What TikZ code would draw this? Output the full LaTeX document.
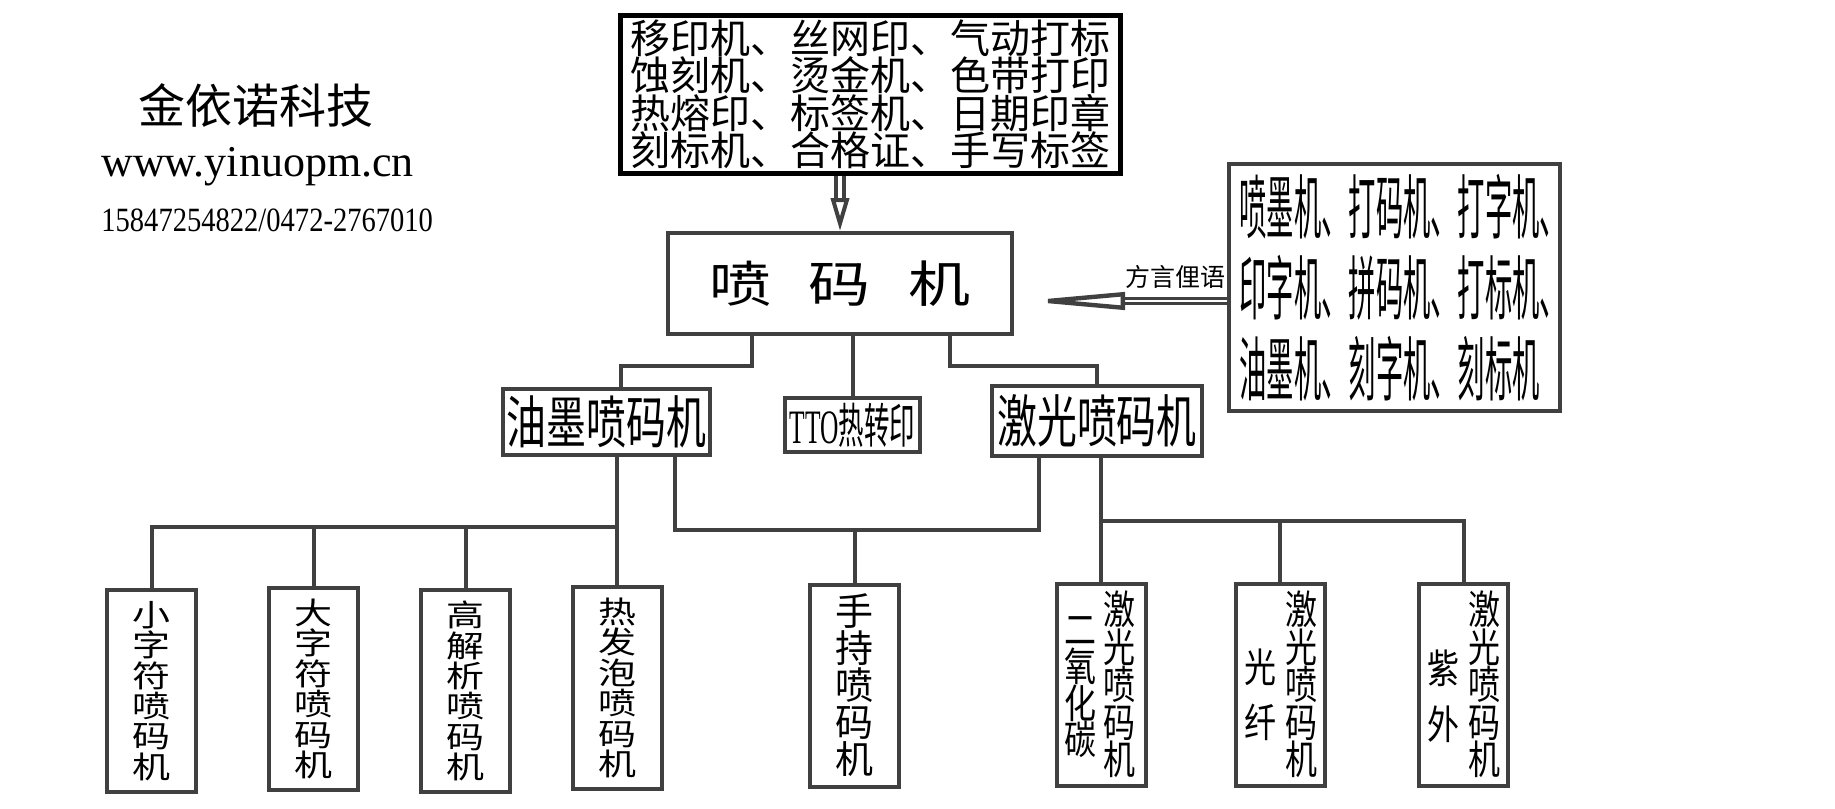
\documentclass[tikz,border=0pt]{standalone}
\usepackage{fontspec}
\usepackage{graphicx}
\setmainfont{Liberation Serif}
\newfontfamily\cjk{Noto Sans CJK SC}
\usetikzlibrary{arrows.meta}
\definecolor{ln}{HTML}{404040}
\newcommand{\vcol}[3]{\scalebox{#1}[#2]{\parbox{1.2em}{\centering\lineskiplimit=-20pt\relax #3}}}

\begin{document}
\begin{tikzpicture}[x=0.5pt,y=-0.5pt,
  box/.style={draw=ln, line width=2pt, inner sep=0pt},
  vbox/.style={box, minimum width=44.5pt, minimum height=101pt, font=\cjk\fontsize{19}{19}\selectfont},
  vt/.style={inner sep=0pt, font=\cjk\fontsize{20}{18.75}\selectfont},
  wire/.style={draw=ln, line width=2pt},
  dbl/.style={draw=ln, double=white}]
\useasboundingbox (0,0) rectangle (1835,808);
        \node (logo) at (256,105) {\cjk\fontsize{23.5}{24}\selectfont 金依诺科技};
        \node (url) [anchor=west, inner sep=0pt] at (101,167) {\fontsize{22}{24}\selectfont www.yinuopm.cn};
        \node (tel) [anchor=west, inner sep=0pt] at (101,220) {\scalebox{0.84}[1]{\fontsize{17}{20}\selectfont 15847254822/0472-2767010}};
        \node (top) [draw=black, line width=2.5pt, inner sep=0pt, minimum width=250pt, minimum height=78.5pt, align=center, font=\cjk\fontsize{20}{18.75}\selectfont] at (870,94.5) {移印机、丝网印、气动打标\\蚀刻机、烫金机、色带打印\\热熔印、标签机、日期印章\\刻标机、合格证、手写标签};
        \node (jm) [box, minimum width=172pt, minimum height=50.5pt, font=\cjk\fontsize{31}{31}\selectfont] at (840,283.5) {\scalebox{1}[0.8]{喷\hspace{19pt}码\hspace{19pt}机}};
        \node (rb) [box, minimum width=165.5pt, minimum height=123.5pt, text width=155pt, align=left, font=\cjk\fontsize{35}{40.5}\selectfont] at (1394.5,287.5) {\scalebox{0.39}[1]{喷墨机、打码机、打字机、}\\\scalebox{0.39}[1]{印字机、拼码机、打标机、}\\\scalebox{0.39}[1]{油墨机、刻字机、刻标机}};
        \node (fy) [inner sep=0pt, font=\cjk\fontsize{12.5}{13}\selectfont] at (1175,277) {方言俚语};
        \node (ym) [box, minimum width=103.5pt, minimum height=33pt, font=\cjk\fontsize{28.5}{29}\selectfont] at (606.5,422) {\scalebox{0.7}[1]{油墨喷码机}};
        \node (tto) [box, minimum width=67.5pt, minimum height=27pt, font=\fontsize{24}{24}\selectfont] at (852.5,425) {\scalebox{0.53}[1]{TTO{\cjk 热转印}}};
        \node (jg) [box, minimum width=105pt, minimum height=35pt, font=\cjk\fontsize{28.5}{29}\selectfont] at (1097,421) {\scalebox{0.7}[1]{激光喷码机}};
        \node (b1) [vbox] at (151.5,691) {\vcol{1}{0.8}{小\\字\\符\\喷\\码\\机}};
        \node (b2) [vbox] at (313.5,689) {\vcol{1}{0.8}{大\\字\\符\\喷\\码\\机}};
        \node (b3) [vbox] at (465.5,691) {\vcol{1}{0.8}{高\\解\\析\\喷\\码\\机}};
        \node (b4) [vbox] at (617,688) {\vcol{1}{0.8}{热\\发\\泡\\喷\\码\\机}};
        \node (b5) [vbox, font=\cjk\fontsize{19}{18.5}\selectfont] at (854.5,685.5) {\vcol{1}{1}{手\\持\\喷\\码\\机}};
        \node (b6) [vbox] at (1101,684.5) {};
        \node (b7) [vbox] at (1280,684.5) {};
        \node (b8) [vbox] at (1463.5,684.5) {};
        \node (b6r) [vt] at (1119,684.5) {\vcol{0.8}{1}{激\\光\\喷\\码\\机}};
        \node (b6l) [vt, font=\cjk\fontsize{20}{18.35}\selectfont] at (1080,687.5) {\vcol{0.8}{1}{二\\氧\\化\\碳}};
        \node (b7r) [vt] at (1301,684.5) {\vcol{0.8}{1}{激\\光\\喷\\码\\机}};
        \node (b7l) [vt, font=\cjk\fontsize{20}{27.5}\selectfont] at (1260,694.5) {\vcol{0.8}{1}{光\\纤}};
        \node (b8r) [vt] at (1484.5,684.5) {\vcol{0.8}{1}{激\\光\\喷\\码\\机}};
        \node (b8l) [vt, font=\cjk\fontsize{20}{28}\selectfont] at (1443,696) {\vcol{0.8}{1}{紫\\外}};
        \coordinate (a1) at (752,366);
        \coordinate (a2) at (950,366);
        \coordinate (c1) at (617,527);
        \coordinate (d1) at (675,530);
        \coordinate (d2) at (1039,530);
        \coordinate (e1) at (1463.5,521);
        \coordinate (tip) at (1021,301);
        \draw [wire] (jm.south -| a1) -- (a1) -| ([xshift=7pt]ym.north);
        \draw [wire] (jm.south -| tto.north) -- (tto.north);
        \draw [wire] (jm.south -| a2) -- (a2) -| (jg.north);
        \draw [wire] (ym.south -| b4.north) -- (b4.north);
        \draw [wire] (b1.north) |- (c1);
        \draw [wire] (b2.north) -- (b2.north |- c1);
        \draw [wire] (b3.north) -- (b3.north |- c1);
        \draw [wire] (ym.south -| d1) -- (d1) -- (d2) -- (jg.south -| d2);
        \draw [wire] (b5.north) -- (b5.north |- d1);
        \draw [wire] (jg.south -| b6.north) -- (b6.north);
        \draw [wire] (b6.north |- e1) -| (b8.north);
        \draw [wire] (b7.north) -- (b7.north |- e1);
        \draw [dbl, line width=2pt, double distance=2pt, -{Triangle[open, fill=white, length=16.5pt, width=9pt, line width=2pt]}] (jm.north |- top.south) -- (jm.north);
        \draw [dbl, line width=1.6pt, double distance=1.2pt, -{Triangle[open, fill=white, length=52pt, width=8.5pt, line width=2.2pt]}] (rb.west |- tip) -- (tip);
\end{tikzpicture}
\end{document}
